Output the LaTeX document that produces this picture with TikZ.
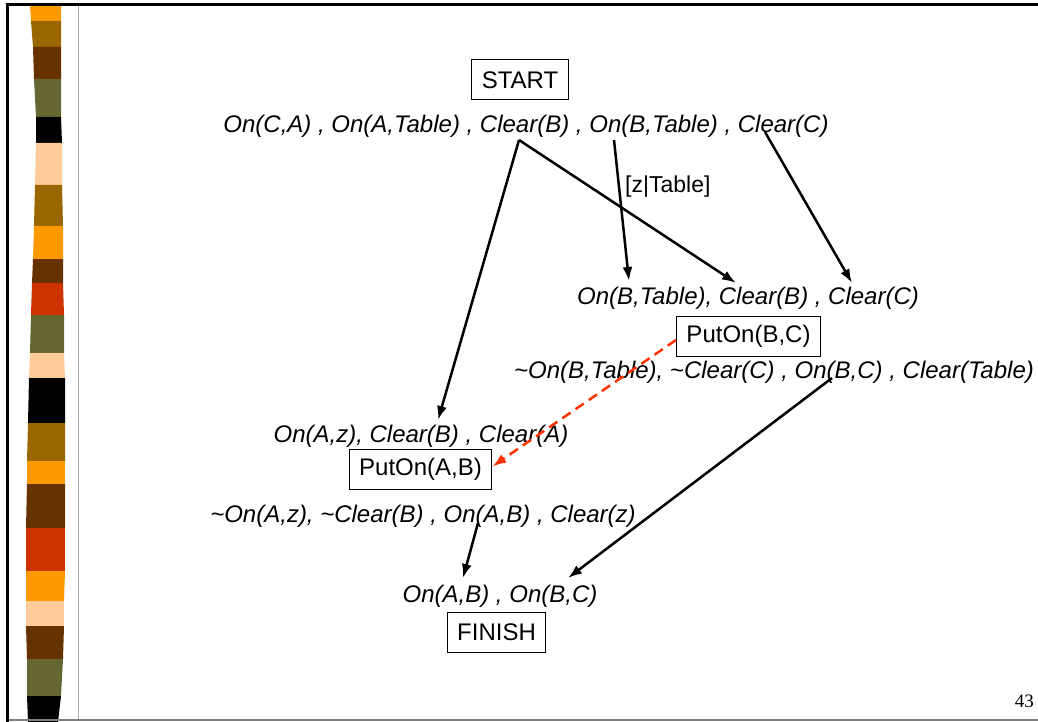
\documentclass[tikz,border=0pt]{standalone}
\usepackage{fontspec}
\setmainfont{Liberation Sans}
\newfontfamily\pagenumfont{Liberation Serif}
\usetikzlibrary{arrows.meta}
\definecolor{cOr}{HTML}{FF9900}
\definecolor{cGd}{HTML}{996600}
\definecolor{cDb}{HTML}{663300}
\definecolor{cOl}{HTML}{666633}
\definecolor{cPe}{HTML}{FFCC99}
\definecolor{cRd}{HTML}{CC3300}
\definecolor{cDash}{HTML}{FF3300}
\definecolor{cGrey}{HTML}{B0B0B0}
\begin{document}
\begin{tikzpicture}[x=1pt,y=-1pt,
  box/.style={draw, line width=1pt, minimum height=40pt, inner xsep=10pt, inner ysep=0pt, font=\fontsize{24}{28}\selectfont},
  lit/.style={inner sep=0pt, anchor=base, font=\fontsize{24}{28}\selectfont\itshape},
  link/.style={line width=2.5pt, -{Latex[length=14pt,width=10pt]}},
  conflict/.style={link, draw=cDash, dash pattern=on 10pt off 6pt}]
\useasboundingbox (0,0) rectangle (1038,722);
% stripe bands
\def\band#1#2#3#4#5#6#7{\fill[#1] (#2,#3) -- (#4,#3) -- (#7,#6) -- (#5,#6) -- cycle;}
\band{cOr}{30}{5}{61}{31}{21}{61}
\band{cGd}{31}{21}{61}{33}{47}{61}
\band{cDb}{33}{47}{61}{34}{79}{61}
\band{cOl}{34}{79}{61}{36}{117}{61}
\band{black}{36}{117}{61}{36}{143}{62}
\band{cPe}{36}{143}{62}{35}{185}{62}
\band{cGd}{35}{185}{62}{34}{226}{63}
\band{cOr}{34}{226}{63}{33}{259}{63}
\band{cDb}{33}{259}{63}{32}{283}{63}
\band{cRd}{32}{283}{63}{31}{315}{64}
\band{cOl}{31}{315}{64}{30}{353}{64}
\band{cPe}{30}{353}{64}{29}{378}{65}
\band{black}{29}{378}{65}{28}{423}{65}
\band{cGd}{28}{423}{65}{27}{461}{65}
\band{cOr}{27}{461}{65}{27}{484}{65}
\band{cDb}{27}{484}{65}{26}{528}{65}
\band{cRd}{26}{528}{65}{26}{571}{65}
\band{cOr}{26}{571}{65}{26}{601}{64}
\band{cPe}{26}{601}{64}{26}{626}{64}
\band{cDb}{26}{626}{64}{27}{659}{63}
\band{cOl}{27}{659}{63}{27}{696}{61}
\band{black}{27}{696}{61}{28}{722}{58}
% frame
\draw[cGrey, line width=1pt] (78,5) -- (78,720);
\draw[gray, line width=1.5pt] (7,720) -- (1038,720);
\draw[black, line width=3pt] (7,722) -- (7,5) -- (1038,5);
% boxes
\node[box] (start) at (520,80) {START};
\node[box] (pbc) at (748.5,336) {PutOn(B,C)};
\node[box] (pab) at (420.5,469.5) {PutOn(A,B)};
\node[box] (finish) at (496.5,632) {FINISH};
% literal lines
\node[lit] (init) at (526,133) {On(C,A) , On(A,Table) , Clear(B) , On(B,Table) , Clear(C)};
\node[lit] (prebc) at (748,304) {On(B,Table), Clear(B) , Clear(C)};
\node[lit] (effbc) at (774,378) {\char`\~On(B,Table), \char`\~Clear(C) , On(B,C) , Clear(Table)};
\node[lit] (preab) at (421,442) {On(A,z), Clear(B) , Clear(A)};
\node[lit] (effab) at (423,522) {\char`\~On(A,z), \char`\~Clear(B) , On(A,B) , Clear(z)};
\node[lit] (prefin) at (500,602) {On(A,B) , On(B,C)};
\node[inner sep=0pt, anchor=base west, font=\fontsize{23}{27}\selectfont] (bind) at (625,193) {[z|Table]};
\node[inner sep=0pt, anchor=base east, font=\pagenumfont\fontsize{19}{22}\selectfont] (pnum) at (1034,707) {43};
% connector end points
\coordinate (iClearB) at (519,140);
\coordinate (iOnBT) at (614,140);
\coordinate (iClearC) at (765,132);
\coordinate (aClearB) at (438,420);
\coordinate (bClearB) at (736,283);
\coordinate (bOnBT) at (629,281);
\coordinate (bClearC) at (852,283);
\coordinate (eOnAB) at (478,523);
\coordinate (fOnAB) at (463,578);
\coordinate (eOnBC) at (832,378);
\coordinate (fOnBC) at (568,578);
% connectors
\draw[link] (iClearB) -- (aClearB);
\draw[link] (iClearB) -- (bClearB);
\draw[link] (iOnBT) -- (bOnBT);
\draw[link] (iClearC) -- (bClearC);
\draw[link] (eOnAB) -- (fOnAB);
\draw[link] (eOnBC) -- (fOnBC);
\draw[conflict] ([yshift=-4pt]pbc.west) -- ([yshift=3pt]pab.east);
\end{tikzpicture}
\end{document}
